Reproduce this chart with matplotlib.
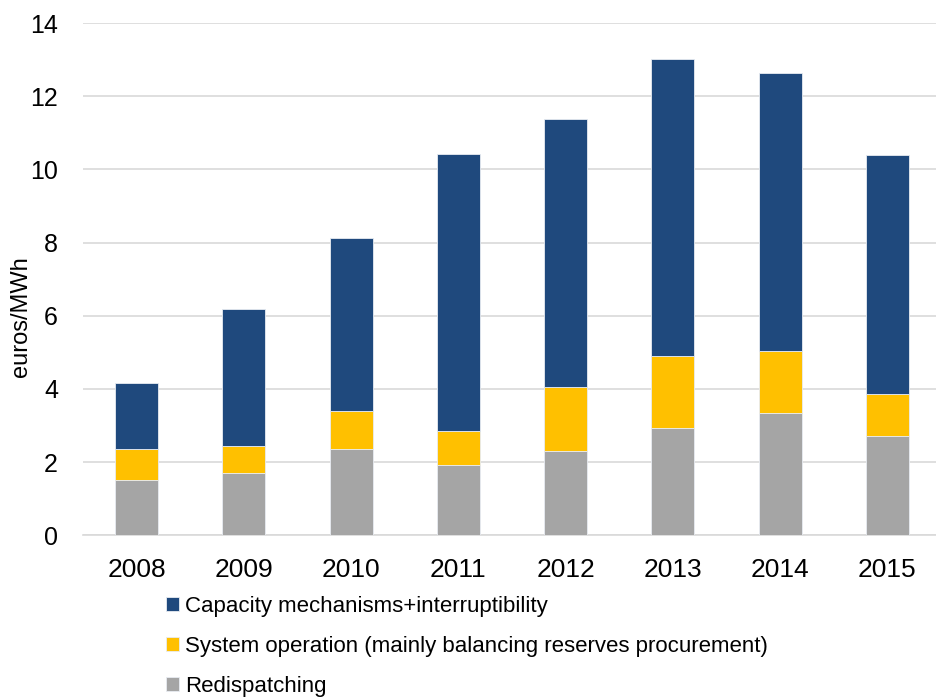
import matplotlib
matplotlib.use('Agg')
import matplotlib.pyplot as plt
import numpy as np

years = ['2008', '2009', '2010', '2011', '2012', '2013', '2014', '2015']
redispatching = [1.51, 1.70, 2.36, 1.92, 2.31, 2.92, 3.35, 2.70]
system_operation = [0.85, 0.74, 1.04, 0.94, 1.74, 1.97, 1.70, 1.15]
capacity = [1.80, 3.75, 4.73, 7.57, 7.34, 8.12, 7.58, 6.54]

series = [
    ('Redispatching', redispatching, '#A5A5A5'),
    ('System operation (mainly balancing reserves procurement)', system_operation, '#FFC000'),
    ('Capacity mechanisms+interruptibility', capacity, '#1F497D'),
]

plt.rcParams['font.family'] = ['Liberation Sans', 'DejaVu Sans']

W, H = 937, 697
fig = plt.figure(figsize=(W / 100, H / 100), dpi=100)
ax = fig.add_axes([83 / W, 1 - 535.3 / H, (937 - 83) / W, (535.3 - 23) / H])

x = np.arange(len(years))
bottom = np.zeros(len(years))
handles = {}
for name, vals, color in series:
    b = ax.bar(x, vals, width=0.4, bottom=bottom, color=color,
               edgecolor='#E8ECF2', linewidth=0.6, label=name, zorder=3)
    handles[name] = b
    bottom += np.array(vals)

ax.set_ylim(0, 14)
ax.set_xlim(-0.5, 7.5 - 4 / 107.3)
ax.set_yticks(range(0, 15, 2))
ax.set_xticks(x)
ax.set_xticklabels(years)
ax.grid(axis='y', color='#D9D9D9', linewidth=1.2, zorder=0)
ax.set_axisbelow(True)
for side in ['top', 'right', 'left']:
    ax.spines[side].set_visible(False)
ax.spines['bottom'].set_color('#D9D9D9')
ax.spines['bottom'].set_linewidth(1.2)
ax.tick_params(axis='both', length=0, colors='#000000')
ax.tick_params(axis='y', pad=18, labelsize=18)
ax.tick_params(axis='x', pad=16, labelsize=19)

fig.text(21 / W, 1 - 317 / H, 'euros/MWh', rotation=90, fontsize=17,
         ha='center', va='center')

# legend runs top-down, opposite to the stacking order
order = [series[2][0], series[1][0], series[0][0]]
leg = fig.legend([handles[n] for n in order], order,
                 loc='upper left', bbox_to_anchor=(166 / W, 1 - 596 / H),
                 frameon=False, fontsize=16, handlelength=0.6,
                 handleheight=0.6, handletextpad=0.27, labelspacing=0.85,
                 borderpad=0, borderaxespad=0)

fig.savefig('out.png', dpi=100)
